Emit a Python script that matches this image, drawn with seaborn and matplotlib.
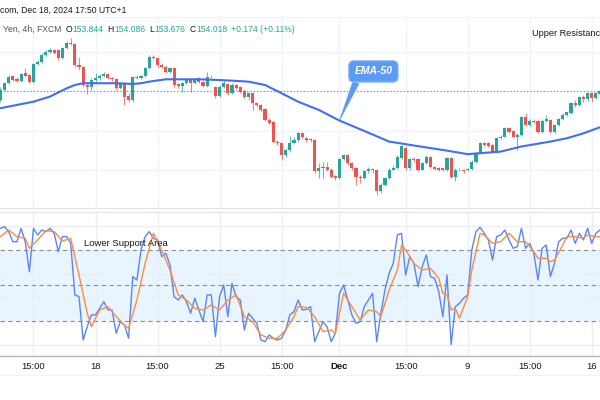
import numpy as np
import pandas as pd
import matplotlib
matplotlib.use("Agg")
import matplotlib.pyplot as plt
import seaborn as sns
from matplotlib.lines import Line2D

# ---------------- data (USD/JPY 4h) ----------------
opens = [153.56, 154.07, 154.41, 154.78, 154.61, 154.54, 154.92, 154.83, 154.49, 155.39,
         155.51, 155.85, 156.02, 156.10, 156.10, 155.68, 156.19, 156.44, 156.41, 155.34,
         155.25, 154.32, 154.20, 154.58, 154.66, 154.78, 154.88, 154.66, 154.61, 154.15,
         154.41, 153.76, 153.56, 154.75, 154.66, 154.78, 155.17, 155.73, 155.68, 155.34,
         155.25, 155.00, 155.17, 154.37, 154.27, 154.41, 154.58, 154.41, 154.66, 154.49,
         154.27, 154.75, 154.20, 153.76, 154.20, 154.37, 153.90, 154.32, 154.20, 154.03,
         153.73, 153.90, 153.39, 153.31, 153.08, 152.54, 152.46, 151.44, 151.36, 150.76,
         151.02, 151.39, 151.53, 151.90, 151.61, 151.53, 151.53, 149.92, 150.08, 150.17,
         150.00, 149.69, 149.58, 150.54, 150.76, 150.34, 150.08, 149.66, 149.58, 149.92,
         150.03, 149.97, 148.90, 149.24, 149.58, 150.00, 150.08, 150.59, 151.10, 150.08,
         150.54, 150.54, 150.00, 150.34, 150.64, 150.14, 150.08, 150.08, 149.97, 150.61,
         149.66, 149.97, 150.00, 149.97, 150.03, 150.42, 150.88, 151.36, 151.36, 151.27,
         150.93, 151.61, 151.69, 152.12, 152.00, 151.69, 151.78, 152.68, 152.29, 152.51,
         152.49, 151.95, 152.51, 152.54, 151.95, 152.29, 152.58, 152.80, 152.88, 153.39,
         153.31, 153.69, 153.59, 153.93, 153.64, 153.844]
highs = [154.20, 154.49, 154.83, 154.83, 154.71, 154.95, 155.17, 154.88, 155.46, 155.59,
         155.93, 156.10, 156.19, 156.14, 156.14, 156.27, 156.58, 156.69, 156.47, 155.76,
         155.29, 154.49, 154.66, 154.92, 154.88, 155.00, 154.92, 154.75, 154.66, 154.49,
         154.49, 153.90, 154.78, 154.81, 154.85, 155.25, 155.85, 155.85, 155.73, 155.42,
         155.34, 155.25, 155.22, 154.44, 154.49, 154.64, 154.61, 154.69, 154.71, 154.54,
         155.00, 154.81, 154.27, 154.32, 154.58, 154.44, 154.41, 154.37, 154.27, 154.10,
         153.98, 153.98, 153.47, 153.36, 153.14, 152.63, 152.51, 151.53, 151.39, 151.10,
         151.73, 151.69, 151.95, 151.95, 151.66, 151.61, 151.56, 150.34, 150.42, 150.42,
         150.08, 149.75, 150.59, 150.81, 150.81, 150.42, 150.17, 149.75, 149.97, 150.17,
         150.08, 150.00, 149.32, 149.66, 150.08, 150.25, 150.76, 151.27, 151.19, 150.61,
         150.68, 150.59, 150.42, 150.76, 150.71, 150.20, 150.14, 150.14, 150.68, 150.68,
         150.08, 150.08, 150.05, 150.08, 150.51, 150.93, 151.44, 151.42, 151.44, 151.32,
         151.69, 151.78, 152.20, 152.17, 152.03, 151.86, 152.75, 152.88, 152.58, 152.58,
         152.54, 152.58, 152.80, 152.58, 152.34, 152.63, 152.88, 152.97, 153.47, 153.56,
         153.76, 153.81, 153.98, 153.98, 153.98, 154.086]
lows = [153.47, 154.03, 154.37, 154.53, 154.47, 154.49, 154.75, 154.41, 154.44, 155.34,
        155.46, 155.80, 155.93, 155.90, 155.59, 155.63, 156.14, 156.36, 155.25, 155.08,
        154.24, 153.85, 154.07, 154.49, 154.58, 154.71, 154.61, 154.54, 154.07, 154.10,
        153.31, 153.47, 153.47, 154.61, 154.61, 154.75, 155.12, 155.63, 155.25, 155.17,
        154.95, 154.95, 154.20, 154.15, 153.98, 154.37, 153.98, 154.37, 154.41, 154.20,
        154.24, 154.68, 153.64, 153.69, 154.15, 153.81, 153.86, 154.07, 153.90, 153.64,
        153.56, 153.05, 153.22, 152.97, 152.51, 152.34, 151.39, 151.27, 150.51, 150.68,
        150.93, 151.36, 151.44, 151.56, 151.44, 151.44, 149.83, 149.58, 149.58, 149.92,
        149.58, 149.49, 149.53, 150.51, 150.25, 150.00, 149.24, 149.32, 149.53, 149.86,
        149.86, 148.73, 148.81, 149.19, 149.53, 149.97, 150.03, 150.54, 150.00, 150.00,
        150.42, 149.92, 149.97, 150.31, 150.08, 149.97, 149.92, 149.92, 149.92, 149.58,
        149.41, 149.92, 149.83, 149.92, 150.00, 150.37, 150.85, 151.19, 151.15, 150.85,
        150.88, 151.56, 151.66, 151.90, 151.66, 151.02, 151.73, 152.24, 152.24, 152.37,
        151.90, 151.90, 152.46, 151.90, 151.90, 152.24, 152.54, 152.75, 152.85, 153.22,
        153.25, 153.47, 153.53, 153.47, 153.59, 153.676]
closes = [154.07, 154.41, 154.75, 154.58, 154.54, 154.88, 154.78, 154.49, 155.39, 155.51,
          155.85, 156.02, 156.10, 155.97, 155.68, 156.19, 156.47, 156.41, 155.34, 155.25,
          154.32, 154.20, 154.58, 154.66, 154.78, 154.88, 154.66, 154.61, 154.15, 154.41,
          153.73, 153.56, 154.75, 154.66, 154.78, 155.17, 155.73, 155.68, 155.34, 155.25,
          155.00, 155.17, 154.32, 154.27, 154.41, 154.58, 154.41, 154.63, 154.49, 154.27,
          154.75, 154.71, 153.76, 154.20, 154.41, 153.90, 154.32, 154.15, 153.98, 153.73,
          153.90, 153.39, 153.31, 153.05, 152.54, 152.41, 151.44, 151.36, 150.76, 151.02,
          151.39, 151.53, 151.86, 151.66, 151.53, 151.56, 149.92, 150.08, 150.17, 150.00,
          149.66, 149.58, 150.54, 150.76, 150.34, 150.08, 149.66, 149.58, 149.92, 150.03,
          149.97, 148.90, 149.24, 149.58, 150.00, 150.08, 150.68, 151.19, 150.08, 150.54,
          150.51, 150.00, 150.34, 150.68, 150.14, 150.03, 150.00, 149.97, 150.59, 149.66,
          150.00, 150.00, 149.92, 150.03, 150.42, 150.88, 151.36, 151.27, 151.22, 150.93,
          151.61, 151.69, 152.12, 151.95, 151.69, 151.78, 152.68, 152.29, 152.51, 152.42,
          151.95, 152.51, 152.58, 151.95, 152.29, 152.58, 152.80, 152.92, 153.39, 153.31,
          153.69, 153.59, 153.93, 153.64, 153.90, 154.018]

ema_idx = [0, 8, 12, 16, 18, 20, 24, 28, 32, 34, 36, 40, 44, 48, 52, 56, 60, 64, 68,
           72, 77, 82, 88, 94, 100, 108, 113, 116, 121, 126, 133, 137, 141, 145]
ema_val = [153.14, 153.47, 153.73, 154.15, 154.32, 154.41, 154.41, 154.41, 154.37, 154.41,
           154.49, 154.61, 154.61, 154.61, 154.58, 154.54, 154.49, 154.32, 153.90,
           153.47, 153.05, 152.51, 151.98, 151.44, 151.24, 150.98, 150.80, 150.85, 150.93,
           151.19, 151.44, 151.61, 151.86, 152.17]

stoch_k = [98.3, 99.7, 95.5, 87.0, 87.0, 98.3, 87.0, 61.7, 98.3, 92.7,
           96.9, 95.5, 98.3, 94.1, 78.6, 91.3, 91.3, 85.6, 42.0, 40.6,
           3.9, 15.2, 25.1, 25.1, 30.7, 36.3, 29.3, 29.3, 9.6, 19.4,
           16.6, 5.4, 57.5, 54.6, 80.0, 91.3, 95.5, 89.9, 88.5, 74.4,
           77.2, 67.3, 40.6, 37.7, 42.0, 36.3, 26.5, 39.2, 29.3, 19.4,
           42.0, 42.0, 6.8, 40.6, 50.4, 23.7, 51.8, 40.6, 37.7, 12.4,
           26.5, 22.3, 18.0, 3.9, 2.5, 8.2, 5.4, 3.9, 5.4, 12.4,
           25.1, 27.9, 37.7, 29.3, 29.9, 32.1, 2.5, 11.0, 19.4, 15.2,
           2.5, 9.6, 43.4, 50.4, 37.7, 25.1, 18.0, 19.4, 32.1, 37.7,
           43.4, 2.5, 26.5, 46.2, 60.3, 68.7, 92.7, 94.1, 58.9, 74.4,
           68.7, 49.0, 65.9, 75.8, 57.5, 56.1, 44.8, 23.7, 58.9, 0.0,
           32.1, 34.9, 39.2, 42.0, 80.0, 95.5, 99.2, 94.1, 88.5, 71.5,
           91.3, 92.7, 96.9, 88.5, 81.4, 82.8, 98.3, 81.4, 85.6, 77.2,
           54.6, 81.4, 84.2, 57.5, 68.7, 87.0, 89.9, 89.9, 96.9, 85.6,
           94.1, 88.5, 98.3, 85.6, 94.1, 96.9]
stoch_d_idx = [0, 2, 4, 6, 7, 9, 11, 13, 15, 17, 19, 21, 22, 24, 26, 28, 30, 31, 33, 35,
               37, 39, 41, 43, 45, 47, 49, 51, 53, 55, 57, 59, 61, 63, 65, 67, 69, 71, 72, 74,
               76, 78, 80, 81, 83, 85, 87, 89, 91, 92, 94, 96, 97, 98, 100, 102, 104, 106, 107, 108,
               109, 110, 111, 113, 114, 116, 117, 119, 121, 123, 125, 127, 129, 130, 132, 133, 134, 136, 137, 139,
               141, 142, 144, 145]
stoch_d = [91.3, 96.9, 91.3, 89.9, 81.4, 88.5, 96.3, 95.5, 87.6, 89.9,
           58.9, 26.5, 15.2, 29.3, 32.1, 23.7, 16.6, 13.8, 37.7, 68.7,
           94.1, 80.0, 63.1, 42.0, 37.7, 30.7, 29.3, 33.5, 29.3, 37.7,
           42.0, 23.7, 19.4, 8.2, 5.4, 5.4, 12.4, 23.7, 32.1, 31.5,
           23.7, 11.0, 12.4, 9.6, 43.4, 32.1, 20.8, 29.3, 27.9, 23.7,
           46.2, 63.1, 84.2, 80.0, 68.7, 63.1, 64.5, 56.1, 43.4, 42.0,
           29.3, 30.7, 22.3, 40.6, 63.1, 94.1, 92.7, 85.6, 87.0, 94.1,
           87.0, 87.0, 78.6, 73.0, 73.0, 70.1, 71.5, 84.2, 91.3, 91.3,
           89.9, 92.7, 91.3, 91.3]

tick_pos = [8, 23, 38, 53, 68, 82, 98, 113, 128, 143]
tick_labels = ["15:00", "18", "15:00", "25", "15:00", "Dec", "15:00", "9", "15:00", "16"]
price_grid = [150, 152, 154, 156]
stoch_grid = [0, 40, 60, 100]
stoch_levels = [80, 50, 20]

# ---------------- style ----------------
sns.set_style("white")
plt.rcParams['font.family'] = ['Liberation Sans', 'DejaVu Sans']

UP, DOWN = '#26a69a', '#ef5350'
GRID = '#f0f3fa'
TXT = '#131722'

W, H = 600, 400
fig = plt.figure(figsize=(6, 4), dpi=100)
fig.patch.set_facecolor('white')


def fx(px):
    return px / W


def fy(py):
    return 1 - py / H


ax1 = fig.add_axes([0, fy(208), 1, (208 - 17) / H])
ax2 = fig.add_axes([0, fy(356), 1, (356 - 212) / H])
XLIM = (-0.1, 145.0)

# ---------------- price panel ----------------
df = pd.DataFrame({'i': np.arange(len(closes)), 'o': opens, 'h': highs,
                   'l': lows, 'c': closes})
colors = np.where(df.c >= df.o, UP, DOWN)
for g in price_grid:
    ax1.axhline(g, color=GRID, lw=1, zorder=0)
for t in tick_pos:
    ax1.axvline(t, color=GRID, lw=1, zorder=0)
ax1.vlines(df.i, df.l, df.h, colors=colors, lw=0.8, alpha=0.7, zorder=2)
body_bot = np.minimum(df.o, df.c)
body_h = np.maximum(np.abs(df.c - df.o), 0.04)
ax1.bar(df.i, body_h, bottom=body_bot, width=0.76, color=colors, linewidth=0, zorder=3)

sns.lineplot(x=ema_idx, y=ema_val, ax=ax1, color='#3f6ff2', lw=1.5, zorder=4)
ax1.axhline(closes[-1], color=UP, ls=(0, (1, 2)), lw=0.8, zorder=1)

ax1.annotate("EMA-50", xy=(82, 152.51), xytext=(90.2, 155.01),
             ha='center', va='center', color='white', fontsize=7.5,
             fontstyle='italic', fontweight='bold', zorder=6,
             bbox=dict(boxstyle='round,pad=0.55,rounding_size=0.5',
                       fc='#5b9bf6', ec='#93bdf8', lw=0.8),
             arrowprops=dict(arrowstyle='wedge,tail_width=0.6,shrink_factor=0.5',
                             fc='#5b9bf6', ec='#5b9bf6', lw=0.5,
                             relpos=(0.12, 0.1), shrinkA=0, shrinkB=0))

ax1.set_xlim(*XLIM)
ax1.set_ylim(148.06, 157.78)
ax1.set_xticks([])
ax1.set_yticks([])
for s in ['top', 'left', 'right']:
    ax1.spines[s].set_visible(False)
ax1.spines['bottom'].set_color('#e0e3eb')
ax1.spines['bottom'].set_linewidth(0.8)

# ---------------- stochastic panel ----------------
ax2.axhspan(20, 80, color='#e8f4fe', lw=0, zorder=0)
for g in stoch_grid:
    ax2.axhline(g, color='#eaeef5', lw=0.9, zorder=0.5)
for t in tick_pos:
    ax2.axvline(t, color='#eaeef5', lw=0.9, zorder=0.5)
for lv in stoch_levels:
    ax2.axhline(lv, color='#8a8d96', ls=(0, (4, 3)), lw=0.8, zorder=1)

sns.lineplot(x=np.arange(len(stoch_k)), y=stoch_k, ax=ax2, color='#5a86f7', lw=1.0, zorder=3)
sns.lineplot(x=stoch_d_idx, y=stoch_d, ax=ax2, color='#ff8c40', lw=1.0, zorder=4)

ax2.set_xlim(*XLIM)
ax2.set_ylim(-9.6, 112.1)
ax2.set_yticks([])
ax2.set_xticks(tick_pos)
ax2.set_xticklabels(tick_labels)
ax2.tick_params(axis='x', length=0, pad=4, labelsize=6.8, labelcolor=TXT)
for lab in ax2.get_xticklabels():
    if lab.get_text() == "Dec":
        lab.set_fontweight('bold')
for s in ['left', 'right']:
    ax2.spines[s].set_visible(False)
ax2.spines['top'].set_color('#e0e3eb')
ax2.spines['top'].set_linewidth(0.8)
ax2.spines['bottom'].set_color('#b2b5be')
ax2.spines['bottom'].set_linewidth(1.0)

# ---------------- texts and separators ----------------
fig.add_artist(Line2D([0, 1], [fy(17), fy(17)], color=GRID, lw=1))
fig.add_artist(Line2D([0, 1], [fy(375), fy(375)], color=GRID, lw=1))

HF = 6.2
fig.text(0, fy(10), "com, Dec 18, 2024 17:50 UTC+1", fontsize=HF, color=TXT, va='center')

renderer = fig.canvas.get_renderer()
segments = [("Yen, 4h, FXCM", '#50535e', 4), ("O", TXT, 0.5), ("153.844", UP, 4),
            ("H", TXT, 0.5), ("154.086", UP, 4), ("L", TXT, 0.5), ("153.676", UP, 4),
            ("C", TXT, 0.5), ("154.018", UP, 4), ("+0.174 (+0.11%)", UP, 0)]
xpix = 3.0
for s, c, gap in segments:
    t = fig.text(fx(xpix), fy(29), s, fontsize=HF, color=c, va='center')
    xpix += t.get_window_extent(renderer).width + gap

fig.text(fx(532), fy(33), "Upper Resistance", fontsize=6.6, color=TXT, va='center')
fig.text(fx(84), fy(244), "Lower Support Area", fontsize=6.8, color=TXT, va='center')

fig.savefig("out.png", dpi=100, facecolor='white')
